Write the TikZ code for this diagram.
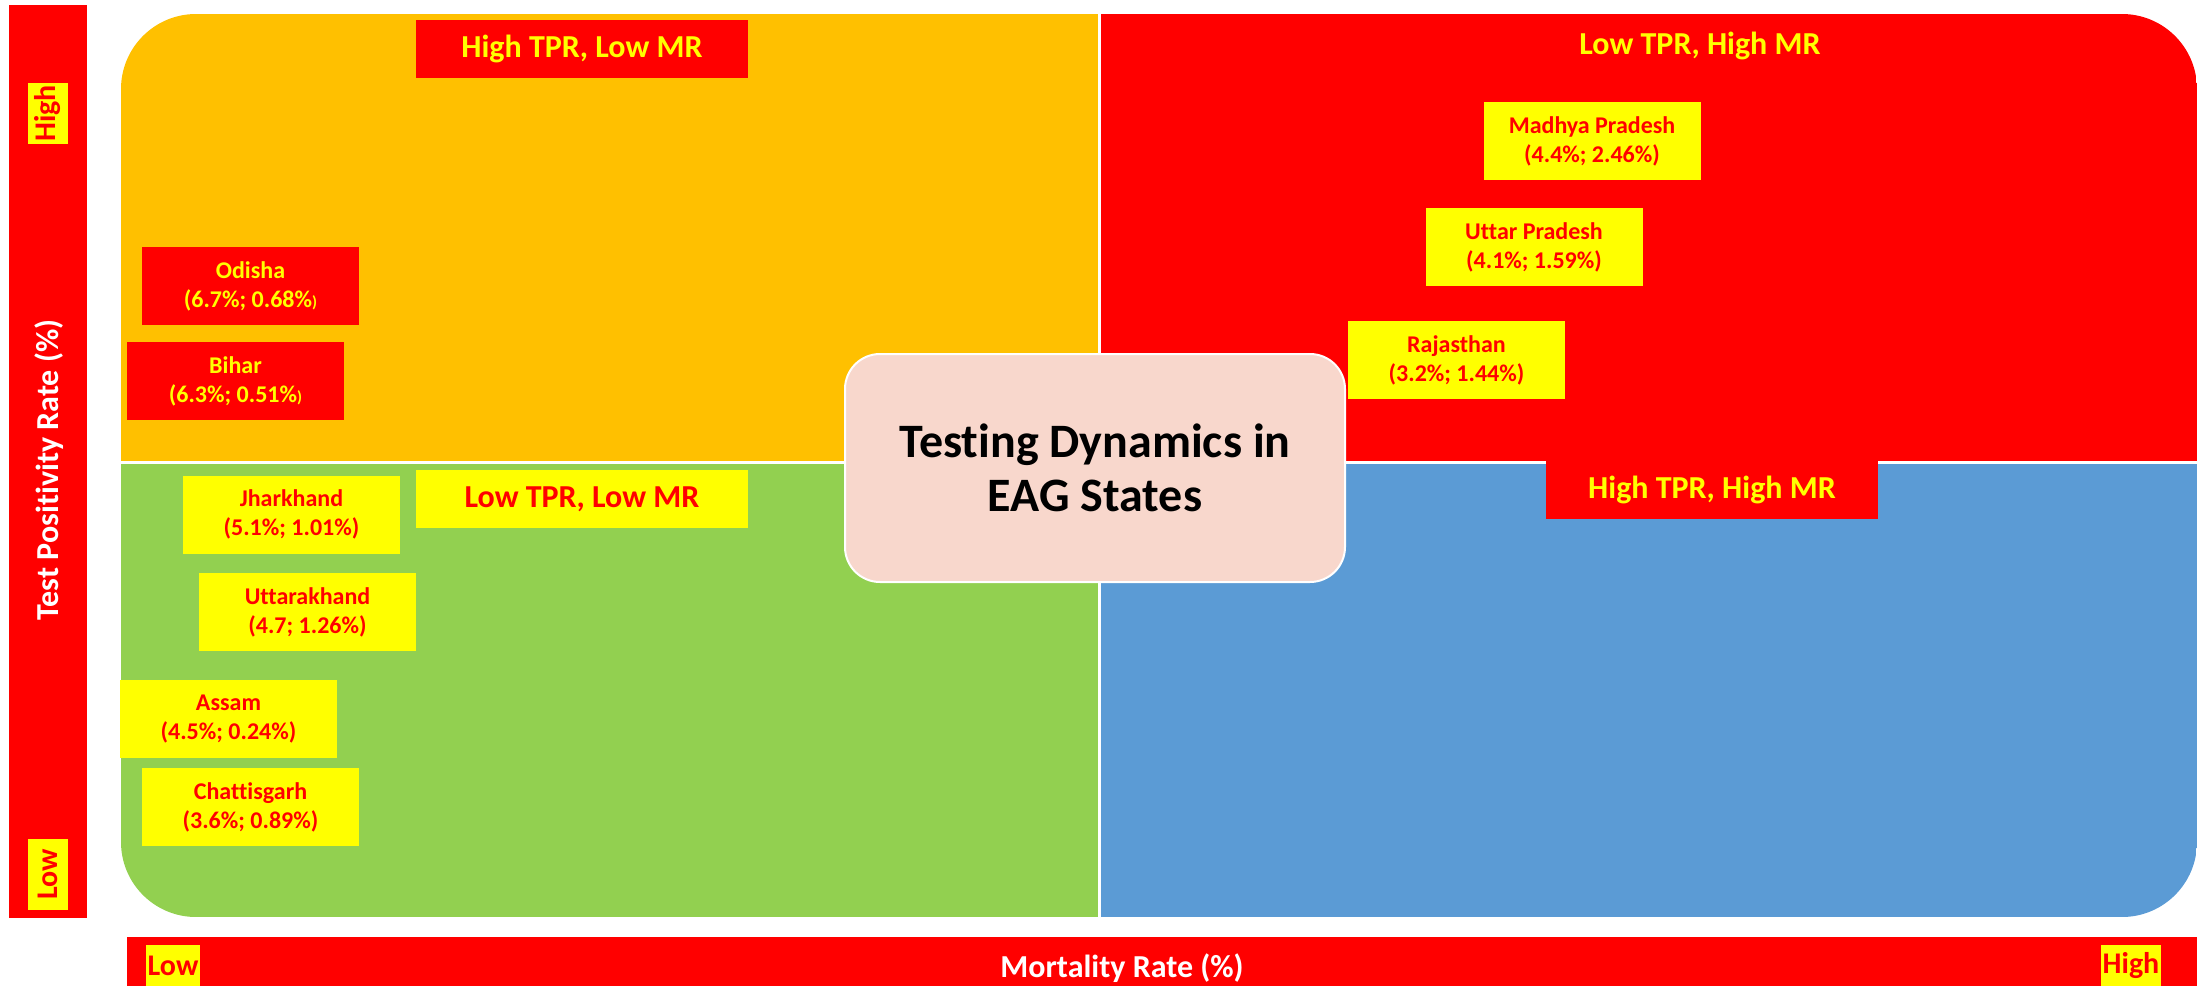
\documentclass[tikz,border=0pt]{standalone}
\usepackage{fontspec}
\setmainfont{Carlito}[Ligatures={NoCommon}]
\definecolor{qorange}{HTML}{FFC000}
\definecolor{qred}{HTML}{FF0000}
\definecolor{qgreen}{HTML}{92D050}
\definecolor{qblue}{HTML}{5B9BD5}
\definecolor{qyellow}{HTML}{FFFF00}
\definecolor{qpink}{HTML}{F8D7CC}
\begin{document}
\begin{tikzpicture}[x=0.5pt,y=-0.5pt,
  statebox/.style={rectangle, inner sep=0pt, minimum width=108.5pt, minimum height=39pt, align=center,
    font=\bfseries\fontsize{12}{14.5}\selectfont},
  redstate/.style={statebox, fill=qred, text=qyellow},
  yelstate/.style={statebox, fill=qyellow, text=qred},
  quadlabel/.style={rectangle, inner sep=0pt, minimum width=166pt, minimum height=29pt,
    font=\bfseries\fontsize{16}{18}\selectfont},
  axistitle/.style={text=white, inner sep=0pt, font=\bfseries\fontsize{16}{19}\selectfont},
  endlabel/.style={rectangle, fill=qyellow, text=qred, inner sep=0pt, minimum height=20pt,
    font=\bfseries\fontsize{15}{18}\selectfont}]
\useasboundingbox (0,0) rectangle (2197,986);
\fill[white] (0,0) rectangle (2197,986);

% quadrants
\begin{scope}
  \clip[rounded corners=37.5pt] (121,14) rectangle (2197,917);
  \fill[qorange] (121,14) rectangle (1099,462);
  \fill[qred] (1099,14) rectangle (2197,462);
  \fill[qgreen] (121,462) rectangle (1099,917);
  \fill[qblue] (1099,462) rectangle (2197,917);
\end{scope}
\draw[white, line width=1.5pt] (1099,14) -- (1099,917);
\draw[white, line width=1.5pt] (121,462) -- (2197,462);

% axes
\fill[qred] (9,5) rectangle (87,918);
\fill[qred] (127,937) rectangle (2197,986);
\node[axistitle, rotate=90] (ytitle) at (49,470) {Test Positivity Rate (\%)};
\node[axistitle, anchor=base] (xtitle) at (1122,977) {Mortality Rate (\%)};
\node[endlabel, rotate=90, minimum width=30.5pt] (yhigh) at (48,113.5) {High};
\node[endlabel, rotate=90, minimum width=35.5pt] (ylow) at (48,874.5) {Low};
\node[endlabel, minimum width=27pt, minimum height=20.5pt] (xlow) at (173,965.5) {Low};
\node[endlabel, minimum width=30pt, minimum height=20.5pt] (xhigh) at (2131,965.5) {High};

% quadrant labels
\node[quadlabel, fill=qred, text=qyellow] (q1) at (582,49) {High TPR, Low MR};
\node[quadlabel, text=qyellow] (q2) at (1700,46) {Low TPR, High MR};
\node[quadlabel, fill=qyellow, text=qred] (q3) at (582,499) {Low TPR, Low MR};
\node[quadlabel, fill=qred, text=qyellow] (q4) at (1712,490) {High TPR, High MR};

% states
\node[redstate] (odisha) at (250.5,286) {Odisha\\(6.7\%; 0.68\%{\fontsize{8}{8}\selectfont)}};
\node[redstate] (bihar) at (235.5,381) {Bihar\\(6.3\%; 0.51\%{\fontsize{8}{8}\selectfont)}};
\node[yelstate] (jharkhand) at (291.5,514.5) {Jharkhand\\(5.1\%; 1.01\%)};
\node[yelstate] (uttarakhand) at (307.5,612) {Uttarakhand\\(4.7; 1.26\%)};
\node[yelstate] (assam) at (228.5,719) {Assam\\(4.5\%; 0.24\%)};
\node[yelstate] (chattisgarh) at (250.5,807) {Chattisgarh\\(3.6\%; 0.89\%)};
\node[yelstate] (mp) at (1592,141) {Madhya Pradesh\\(4.4\%; 2.46\%)};
\node[yelstate] (up) at (1534,247) {Uttar Pradesh\\(4.1\%; 1.59\%)};
\node[yelstate] (rajasthan) at (1456.5,360) {Rajasthan\\(3.2\%; 1.44\%)};

% centre
\node[rectangle, rounded corners=17.5pt, fill=qpink, draw=white, line width=1pt,
  minimum width=250pt, minimum height=114pt, align=center,
  font=\bfseries\fontsize{24}{27}\selectfont] (title) at (1095,468)
  {Testing Dynamics in\\EAG States};
\end{tikzpicture}
\end{document}
